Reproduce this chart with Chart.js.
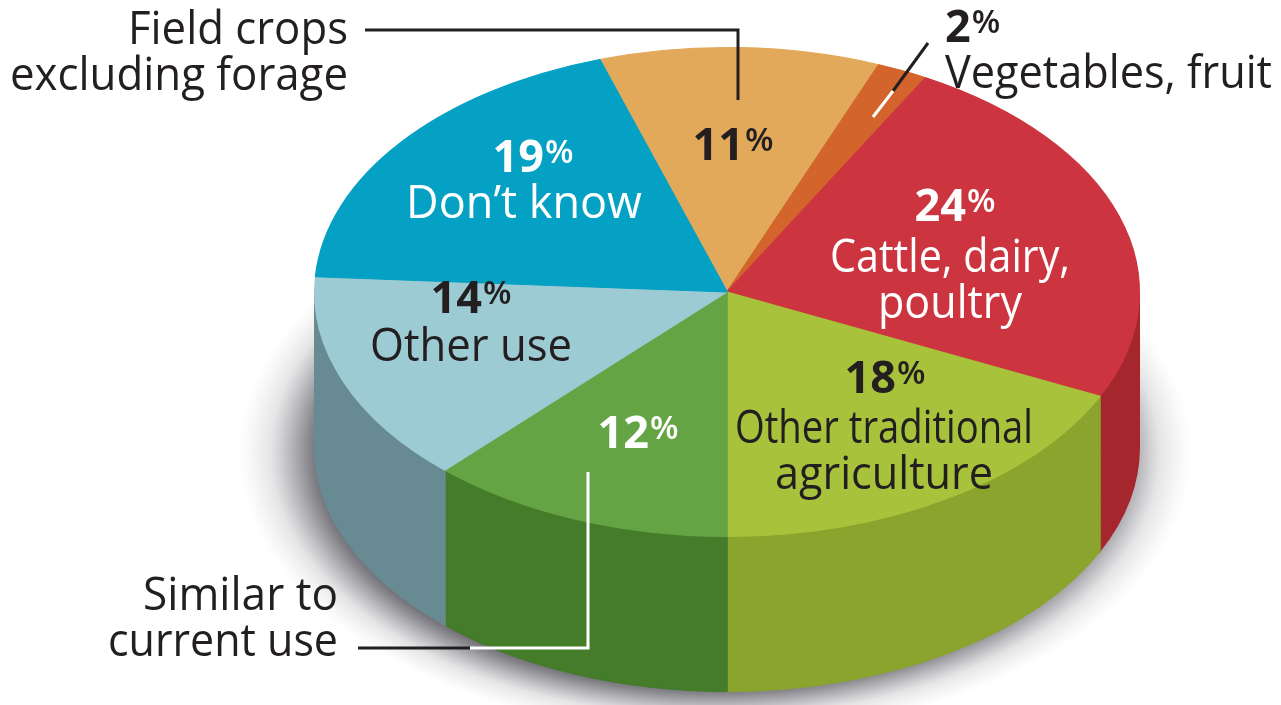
<!DOCTYPE html>
<html lang="en">
<head>
  <meta charset="UTF-8">
  <title>Land use pie</title>
  <script src="https://cdn.jsdelivr.net/npm/chart.js"></script>
  <style>
    html, body { margin: 0; padding: 0; background: #fff; overflow: hidden; }
    #pie { display: block; }
  </style>
</head>
<body>
  <canvas id="pie" width="1281" height="705"></canvas>

  <script>
    // data, clockwise from the top
    const categories = ['Field crops excluding forage', 'Vegetables, fruit', 'Cattle, dairy, poultry',
      'Other traditional agriculture', 'Similar to current use', 'Other use', 'Don\u2019t know'];
    const shares = [11, 2, 24, 18, 12, 14, 19];
    const topColors = ['#e3a95a', '#d3642b', '#cc3540', '#a9c23b', '#65a444', '#9ccbd4', '#04a1c4'];
    const sideColors = ['#b98440', '#a84a1e', '#a6262d', '#8ba42e', '#447c2a', '#688b93', '#037f9c'];

    const depth = 155;          // height of the cylinder wall
    const stretch = 413 / 245;  // horizontal stretch that turns the circle into an ellipse
    const ink = '#231f20';

    // where the text goes (annotation layout, not data)
    const pctNotes = [
      { x: 733, y: 160, align: 'center', color: ink },
      { x: 945, y: 42, align: 'left', color: ink },
      { x: 955, y: 221, align: 'center', color: '#fff' },
      { x: 885, y: 393, align: 'center', color: ink },
      { x: 638, y: 448, align: 'center', color: '#fff' },
      { x: 471, y: 313, align: 'center', color: ink },
      { x: 533, y: 172, align: 'center', color: '#fff' }
    ];
    const nameNotes = [
      { lines: ['Field crops', 'excluding forage'], widths: [220, 338], x: 348, y: 44, align: 'right', color: ink },
      { lines: ['Vegetables, fruit'], widths: [327], x: 945, y: 88, align: 'left', color: ink },
      { lines: ['Cattle, dairy,', 'poultry'], widths: [240, 144], x: 950, y: 272, align: 'center', color: '#fff' },
      { lines: ['Other traditional', 'agriculture'], widths: [298, 218], x: 884, y: 443, align: 'center', color: ink },
      { lines: ['Similar to', 'current use'], widths: [195, 230], x: 338, y: 610, align: 'right', color: ink },
      { lines: ['Other use'], widths: [202], x: 471, y: 361, align: 'center', color: ink },
      { lines: ['Don\u2019t know'], widths: [238], x: 524, y: 218, align: 'center', color: '#fff' }
    ];

    function drawPct(ctx, value, note) {
      const size = note.size || 45;
      const num = String(value);
      ctx.font = `700 ${size}px "Open Sans"`;
      const wNum = ctx.measureText(num).width;
      const pSize = Math.round(size * 0.74);
      ctx.font = `600 ${pSize}px "Open Sans"`;
      const wPct = ctx.measureText('%').width;
      const total = wNum + 1 + wPct;
      let left = note.x;
      if (note.align === 'center') left = note.x - total / 2;
      ctx.fillStyle = note.color;
      ctx.textAlign = 'left';
      ctx.textBaseline = 'alphabetic';
      ctx.font = `700 ${size}px "Open Sans"`;
      ctx.fillText(num, left, note.y);
      ctx.font = `600 ${pSize}px "Open Sans"`;
      ctx.fillText('%', left + wNum + 1, note.y - (size - pSize) * 0.72);
    }

    function line(ctx, pts, color) {
      ctx.beginPath();
      ctx.moveTo(pts[0][0], pts[0][1]);
      pts.slice(1).forEach(p => ctx.lineTo(p[0], p[1]));
      ctx.strokeStyle = color;
      ctx.lineWidth = 3;
      ctx.lineJoin = 'miter';
      ctx.stroke();
    }

    const cylinder = {
      id: 'cylinder',
      beforeDatasetsDraw(chart) {
        const ctx = chart.ctx;
        const arcs = chart.getDatasetMeta(0).data;
        const { x, y, outerRadius: r } = arcs[0];
        ctx.save();
        ctx.translate(x, y);
        ctx.scale(stretch, 1);
        ctx.translate(-x, -y);

        // soft shadow round the foot of the cylinder
        const sx = x - 7, sy = y + depth + 6;
        const g = ctx.createRadialGradient(sx, sy, r - 25, sx, sy, r + 38);
        g.addColorStop(0, 'rgba(20,20,30,0.9)');
        g.addColorStop(0.35, 'rgba(40,40,50,0.55)');
        g.addColorStop(0.7, 'rgba(80,80,90,0.15)');
        g.addColorStop(1, 'rgba(120,120,130,0)');
        ctx.fillStyle = g;
        ctx.beginPath();
        ctx.arc(sx, sy, r + 38, 0, 2 * Math.PI);
        ctx.fill();

        // front walls of each slice
        arcs.forEach((arc, i) => {
          const s = arc.startAngle, e = arc.endAngle;
          for (let k = -1; k <= 1; k++) {
            const a1 = Math.max(s, 2 * Math.PI * k);
            const a2 = Math.min(e, 2 * Math.PI * k + Math.PI);
            if (a2 <= a1) continue;
            ctx.beginPath();
            ctx.arc(x, y, r, a1, a2);
            ctx.arc(x, y + depth, r, a2, a1, true);
            ctx.closePath();
            ctx.fillStyle = sideColors[i];
            ctx.strokeStyle = sideColors[i];
            ctx.lineWidth = 1;
            ctx.fill();
            ctx.stroke();
          }
        });
      },
      afterDatasetsDraw(chart) {
        chart.ctx.restore();
      },
      afterDraw(chart) {
        const ctx = chart.ctx;
        ctx.save();

        // leader lines
        line(ctx, [[365, 30], [738, 30], [738, 100]], ink);
        line(ctx, [[928, 43], [893, 91]], ink);
        line(ctx, [[893, 91], [873, 117]], '#fff');
        line(ctx, [[588, 472], [588, 648], [470, 648]], '#fff');
        line(ctx, [[470, 648], [358, 648]], ink);

        shares.forEach((v, i) => drawPct(ctx, v, pctNotes[i]));

        nameNotes.forEach(n => {
          ctx.font = '45px "Open Sans"';
          ctx.fillStyle = n.color;
          ctx.textAlign = n.align;
          ctx.textBaseline = 'alphabetic';
          n.lines.forEach((t, j) => ctx.fillText(t, n.x, n.y + j * 46, n.widths[j]));
        });
        ctx.restore();
      }
    };

    new Chart(document.getElementById('pie'), {
      type: 'pie',
      data: {
        labels: categories,
        datasets: [{
          data: shares,
          backgroundColor: topColors,
          borderColor: topColors,
          borderWidth: 1,
          clip: false
        }]
      },
      options: {
        responsive: false,
        animation: false,
        rotation: -18,
        layout: { padding: { left: 173, right: 0, top: 47, bottom: 168 } },
        plugins: { legend: { display: false }, tooltip: { enabled: false } }
      },
      plugins: [cylinder]
    });
  </script>
</body>
</html>
